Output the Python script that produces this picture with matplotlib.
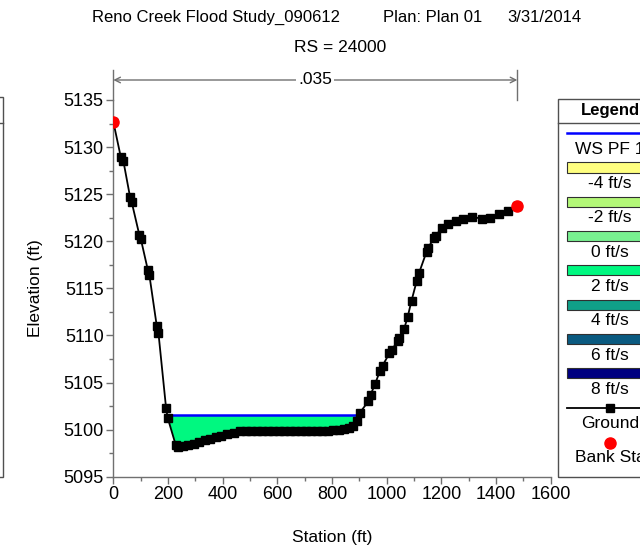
import numpy as np
import matplotlib
matplotlib.use("Agg")
import matplotlib.pyplot as plt
from matplotlib.patches import Rectangle
from matplotlib.lines import Line2D
from matplotlib.ticker import MultipleLocator

plt.rcParams['font.family'] = ['Liberation Sans', 'DejaVu Sans']

# Cross-section ground survey (station ft, elevation ft)
station = [0, 27, 37, 61, 67, 95, 101, 126, 132, 159, 165, 193, 199, 228, 235,
           255, 275, 295, 315, 335, 355, 375, 395, 415, 440, 465, 485, 505,
           525, 545, 565, 585, 605, 625, 645, 665, 685, 705, 725, 745, 765,
           785, 805, 825, 845, 862, 878, 890, 902, 933, 941, 957, 975, 985,
           1010, 1018, 1042, 1046, 1064, 1077, 1091, 1110, 1118, 1146, 1150,
           1174, 1180, 1201, 1225, 1253, 1280, 1311, 1347, 1378, 1412, 1445,
           1478]
elevation = [5132.7, 5129.0, 5128.5, 5124.75, 5124.2, 5120.7, 5120.2, 5117.0,
             5116.4, 5111.0, 5110.3, 5102.3, 5101.25, 5098.4, 5098.2, 5098.25,
             5098.4, 5098.5, 5098.7, 5098.9, 5099.0, 5099.2, 5099.35, 5099.5,
             5099.65, 5099.8, 5099.85, 5099.85, 5099.85, 5099.85, 5099.85,
             5099.85, 5099.85, 5099.85, 5099.85, 5099.85, 5099.85, 5099.85,
             5099.85, 5099.85, 5099.9, 5099.9, 5099.95, 5100.0, 5100.05,
             5100.2, 5100.4, 5100.9, 5101.8, 5103.0, 5103.7, 5104.8, 5106.2,
             5106.8, 5108.1, 5108.5, 5109.4, 5109.7, 5110.7, 5112.0, 5113.7,
             5115.8, 5116.6, 5118.9, 5119.3, 5120.3, 5120.6, 5121.4, 5121.85,
             5122.2, 5122.4, 5122.6, 5122.4, 5122.5, 5122.9, 5123.2, 5123.7]
bank_station = [0, 1478]
bank_elev = [5132.7, 5123.7]
ws_elev = 5101.6
n_value = ".035"

legend_labels = ["-4 ft/s", "-2 ft/s", "0 ft/s", "2 ft/s", "4 ft/s", "6 ft/s", "8 ft/s"]
legend_colors = ["#FFFF80", "#B4F878", "#78F090", "#00F880", "#10A088", "#0A5A80", "#000080"]
water_color = "#00F880"

W, H = 640, 548
fig = plt.figure(figsize=(W / 100, H / 100), dpi=100)


def fx(px):
    return px / W


def fy(py):
    return 1 - py / H


ax_l, ax_r, ax_t, ax_b = 113.3, 550.7, 100.0, 476.7
ax = fig.add_axes([fx(ax_l), fy(ax_b), fx(ax_r - ax_l), (ax_b - ax_t) / H])

x = np.array(station, dtype=float)
z = np.array(elevation, dtype=float)

# Wetted area below the water surface
ax.fill_between(x, z, ws_elev, where=z < ws_elev, interpolate=True,
                color=water_color, linewidth=0, zorder=1)

# Water surface limits where the ground crosses the WS elevation
below = z < ws_elev
i0 = np.argmax(below)
i1 = len(z) - 1 - np.argmax(below[::-1])
xl = np.interp(ws_elev, [z[i0], z[i0 - 1]], [x[i0], x[i0 - 1]])
xr = np.interp(ws_elev, [z[i1], z[i1 + 1]], [x[i1], x[i1 + 1]])
ax.plot([xl, xr], [ws_elev, ws_elev], color="#0000FF", lw=1.8, zorder=2)

ax.plot(x, z, color="black", lw=1.3, marker="s", markersize=5.8,
        markerfacecolor="black", markeredgecolor="black", zorder=3)
ax.plot(bank_station, bank_elev, linestyle="none", marker="o", markersize=8,
        color="#FF0000", zorder=4)

ax.set_xlim(0, 1600)
ax.set_ylim(5095, 5135)
ax.xaxis.set_major_locator(MultipleLocator(200))
ax.xaxis.set_minor_locator(MultipleLocator(100))
ax.yaxis.set_major_locator(MultipleLocator(5))
ax.yaxis.set_minor_locator(MultipleLocator(2.5))
for s in ("top", "right"):
    ax.spines[s].set_visible(False)
for s in ("left", "bottom"):
    ax.spines[s].set_color("#707070")
    ax.spines[s].set_linewidth(1.0)
ax.tick_params(which="major", length=5, width=1, color="#707070",
               labelsize=13, pad=2)
ax.tick_params(which="minor", length=3, width=1, color="#707070")
ax.set_xlabel("Station (ft)", fontsize=12.5)
ax.set_ylabel("Elevation (ft)", fontsize=12.5)
ax.xaxis.set_label_coords(0.5, (ax_b - 530) / (ax_b - ax_t))
ax.yaxis.set_label_coords((43 - ax_l) / (ax_r - ax_l), 0.5)

# Manning's n dimension line above the section
trans = ax.get_xaxis_transform()
y_dim = (ax_b - 80) / (ax_b - ax_t)
y_ext = (ax_b - 70) / (ax_b - ax_t)
for xs in bank_station:
    ax.plot([xs, xs], [1.0, y_ext], transform=trans, color="#707070",
            lw=1, clip_on=False)
ax.annotate("", xy=(bank_station[0], y_dim), xytext=(bank_station[1], y_dim),
            xycoords=trans, textcoords=trans,
            arrowprops=dict(arrowstyle="<->", color="#707070", lw=1,
                            shrinkA=0, shrinkB=0))
ax.text(np.mean(bank_station), y_dim, n_value, transform=trans, ha="center",
        va="center", fontsize=12.5,
        bbox=dict(facecolor="white", edgecolor="none", pad=1.5))

# Titles
fig.text(fx(92), fy(17), "Reno Creek Flood Study_090612", fontsize=12,
         ha="left", va="center")
fig.text(fx(383), fy(17), "Plan: Plan 01", fontsize=12, ha="left", va="center")
fig.text(fx(507), fy(17), "3/31/2014", fontsize=12, ha="left", va="center")
fig.text(fx(340), fy(47), "RS = 24000", fontsize=12.5, ha="center", va="center")

# Partial frame at the left edge
fig.patches.append(Rectangle((fx(-60), fy(477)), fx(63), (477 - 97) / H,
                             transform=fig.transFigure, fill=False,
                             edgecolor="#505050", lw=1))
fig.lines.append(Line2D([fx(-60), fx(3)], [fy(123), fy(123)],
                        transform=fig.transFigure, color="#505050", lw=1))

# Legend panel
lx0, lx1, ly0, ly1 = 558, 662, 99, 477
cx = (lx0 + lx1) / 2
fig.patches.append(Rectangle((fx(lx0), fy(ly1)), fx(lx1 - lx0), (ly1 - ly0) / H,
                             transform=fig.transFigure, fill=False,
                             edgecolor="#505050", lw=1))
fig.lines.append(Line2D([fx(lx0), fx(lx1)], [fy(123), fy(123)],
                        transform=fig.transFigure, color="#505050", lw=1))
fig.text(fx(cx), fy(111), "Legend", fontsize=12, fontweight="bold",
         ha="center", va="center")
fig.lines.append(Line2D([fx(567), fx(653)], [fy(133), fy(133)],
                        transform=fig.transFigure, color="#0000FF", lw=1.8))
fig.text(fx(cx), fy(149), "WS PF 1", fontsize=12.5, ha="center", va="center")
for k, (lab, col) in enumerate(zip(legend_labels, legend_colors)):
    yc = 183.5 + 34.3 * k
    fig.patches.append(Rectangle((fx(567), fy(yc - 11)), fx(86), 10 / H,
                                 transform=fig.transFigure, facecolor=col,
                                 edgecolor="#303030", lw=0.8))
    fig.text(fx(cx), fy(yc), lab, fontsize=12.5, ha="center", va="center")
fig.lines.append(Line2D([fx(567), fx(653)], [fy(408), fy(408)],
                        transform=fig.transFigure, color="black", lw=1.3))
fig.lines.append(Line2D([fx(cx)], [fy(408)], transform=fig.transFigure,
                        marker="s", markersize=5.8, color="black"))
fig.text(fx(cx), fy(424), "Ground", fontsize=12.5, ha="center", va="center")
fig.lines.append(Line2D([fx(cx)], [fy(443)], transform=fig.transFigure,
                        marker="o", markersize=8, color="#FF0000"))
fig.text(fx(cx), fy(458), "Bank Sta", fontsize=12.5, ha="center", va="center")

fig.savefig("out.png", dpi=100)
